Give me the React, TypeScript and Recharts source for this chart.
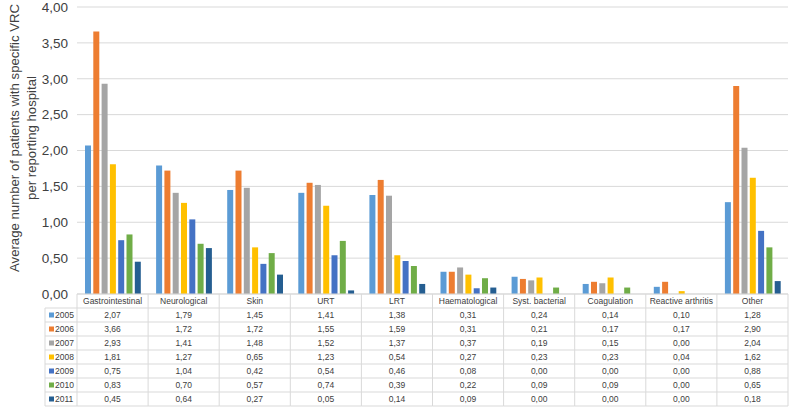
import React from 'react';
import { BarChart, Bar, XAxis, YAxis, CartesianGrid } from 'recharts';

const categories = ['Gastrointestinal', 'Neurological', 'Skin', 'URT', 'LRT', 'Haematological', 'Syst. bacterial', 'Coagulation', 'Reactive arthritis', 'Other'];
const years = ['2005', '2006', '2007', '2008', '2009', '2010', '2011'];
const v2005 = [2.07, 1.79, 1.45, 1.41, 1.38, 0.31, 0.24, 0.14, 0.10, 1.28];
const v2006 = [3.66, 1.72, 1.72, 1.55, 1.59, 0.31, 0.21, 0.17, 0.17, 2.90];
const v2007 = [2.93, 1.41, 1.48, 1.52, 1.37, 0.37, 0.19, 0.15, 0.00, 2.04];
const v2008 = [1.81, 1.27, 0.65, 1.23, 0.54, 0.27, 0.23, 0.23, 0.04, 1.62];
const v2009 = [0.75, 1.04, 0.42, 0.54, 0.46, 0.08, 0.00, 0.00, 0.00, 0.88];
const v2010 = [0.83, 0.70, 0.57, 0.74, 0.39, 0.22, 0.09, 0.09, 0.00, 0.65];
const v2011 = [0.45, 0.64, 0.27, 0.05, 0.14, 0.09, 0.00, 0.00, 0.00, 0.18];
const yTicks = [0, 0.5, 1, 1.5, 2, 2.5, 3, 3.5, 4];
const yLabelLines = ['Average number of patients with specific VRC', 'per reporting hospital'];

const seriesValues = [v2005, v2006, v2007, v2008, v2009, v2010, v2011];
const colors = ['#5B9BD5', '#ED7D31', '#A5A5A5', '#FFC000', '#4472C4', '#70AD47', '#255E91'];

const data = categories.map((c, i) => {
  const row: Record<string, any> = { name: c };
  years.forEach((y, s) => { row[y] = seriesValues[s][i]; });
  return row;
});

const W = 796;
const H = 407;
const M = { top: 7, right: 8, left: 0, bottom: 0 };
const Y_W = 77;
const X_H = 113;
const BW = (W - M.left - M.right - Y_W) / categories.length;
const HEADER_H = 14;
const ROW_H = 14;
const LEG_W = 32;
const GRID = '#D9D9D9';
const TXT = '#404040';
const FONT = '"Liberation Sans", Arial, sans-serif';
const fmt = (v: number) => v.toFixed(2).replace('.', ',');

const TableTick = (props: any) => {
  const { x, y, payload } = props;
  const i: number = payload.index;
  const left = x - BW / 2;
  const right = x + BW / 2;
  const bottom = y + HEADER_H + years.length * ROW_H;
  const els: any[] = [];
  els.push(<line key="vl" x1={left} y1={y} x2={left} y2={bottom} stroke={GRID} />);
  if (i === categories.length - 1) {
    els.push(<line key="vr" x1={right} y1={y} x2={right} y2={bottom} stroke={GRID} />);
  }
  els.push(
    <text key="h" x={x} y={y + HEADER_H / 2} textAnchor="middle" dominantBaseline="central" fontSize={8.5} fill={TXT} fontFamily={FONT}>
      {payload.value}
    </text>
  );
  years.forEach((yr, s) => {
    const top = y + HEADER_H + s * ROW_H;
    els.push(<line key={'hl' + s} x1={left} y1={top} x2={right} y2={top} stroke={GRID} />);
    els.push(
      <text key={'t' + s} x={x} y={top + ROW_H / 2} textAnchor="middle" dominantBaseline="central" fontSize={8.5} fill={TXT} fontFamily={FONT}>
        {fmt(seriesValues[s][i])}
      </text>
    );
  });
  els.push(<line key="bl" x1={left} y1={bottom} x2={right} y2={bottom} stroke={GRID} />);
  if (i === 0) {
    const lx = left - LEG_W;
    els.push(<line key="lv" x1={lx} y1={y + HEADER_H} x2={lx} y2={bottom} stroke={GRID} />);
    years.forEach((yr, s) => {
      const top = y + HEADER_H + s * ROW_H;
      els.push(<line key={'lh' + s} x1={lx} y1={top} x2={left} y2={top} stroke={GRID} />);
      els.push(<rect key={'lr' + s} x={lx + 4} y={top + ROW_H / 2 - 2.5} width={5} height={5} fill={colors[s]} />);
      els.push(
        <text key={'lt' + s} x={lx + 10} y={top + ROW_H / 2} dominantBaseline="central" fontSize={8.5} fill={TXT} fontFamily={FONT}>
          {yr}
        </text>
      );
    });
    els.push(<line key="lb" x1={lx} y1={bottom} x2={left} y2={bottom} stroke={GRID} />);
  }
  return <g>{els}</g>;
};

const YLabel = () => {
  const cy = 138;
  const xs = [14, 31];
  return (
    <g>
      {yLabelLines.map((t, k) => (
        <text key={k} x={xs[k]} y={cy} transform={`rotate(-90 ${xs[k]} ${cy})`} textAnchor="middle" dominantBaseline="central" fontSize={13.2} fill={TXT} fontFamily={FONT}>
          {t}
        </text>
      ))}
    </g>
  );
};

export default function App() {
  return (
    <div style={{ position: 'absolute', left: 0, top: 0, width: W, height: H, background: '#fff' }}>
      <BarChart width={W} height={H} data={data} margin={M} barSize={6} barGap={2.3}>
        <CartesianGrid vertical={false} stroke={GRID} />
        <XAxis
          dataKey="name"
          height={X_H}
          interval={0}
          tickSize={0}
          tickMargin={0}
          tickLine={false}
          axisLine={{ stroke: GRID }}
          tick={<TableTick />}
        />
        <YAxis
          width={Y_W}
          domain={[0, 4]}
          ticks={yTicks}
          interval={0}
          axisLine={false}
          tickLine={false}
          tickSize={0}
          tickMargin={9}
          tickFormatter={fmt}
          tick={{ fontSize: 13.5, fill: TXT, fontFamily: FONT }}
          label={{ content: <YLabel /> }}
        />
        {years.map((yr, s) => (
          <Bar key={yr} dataKey={yr} fill={colors[s]} isAnimationActive={false} />
        ))}
      </BarChart>
    </div>
  );
}
